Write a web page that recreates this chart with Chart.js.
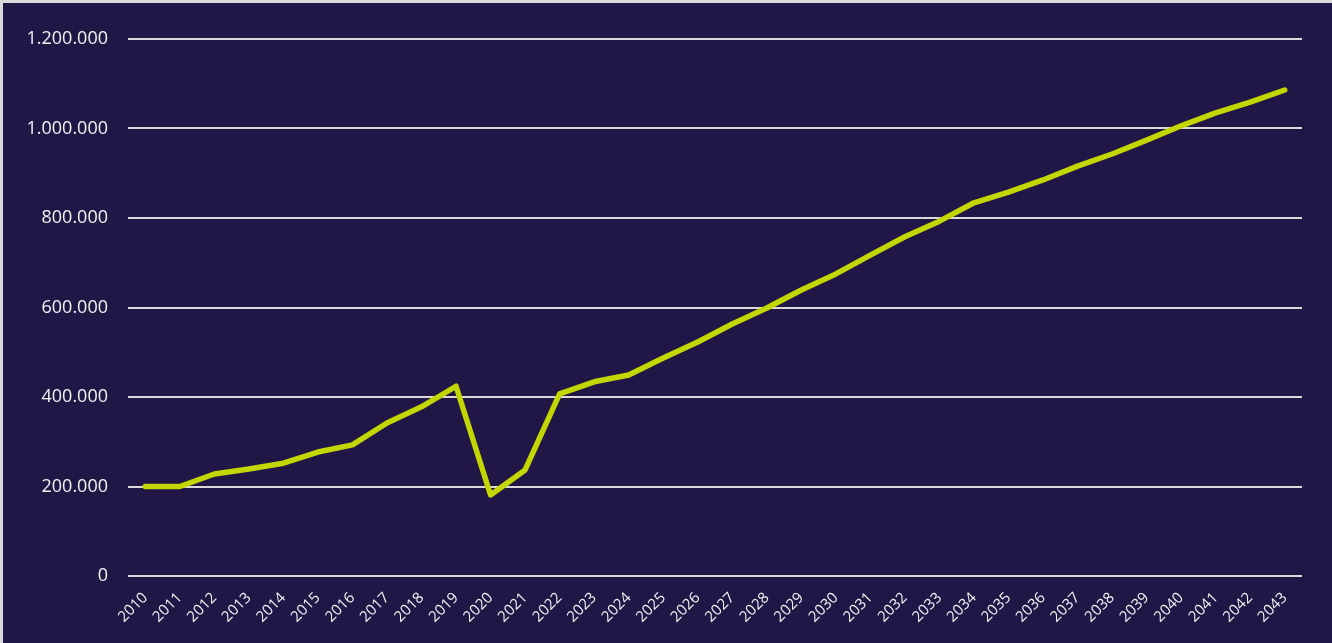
<!DOCTYPE html>
<html>
<head>
<meta charset="utf-8">
<script src="https://cdn.jsdelivr.net/npm/chart.js@4.4.0/dist/chart.umd.min.js"></script>
<style>
  html, body { margin: 0; padding: 0; background: #201747; }
  #wrap {
    position: absolute; left: 0; top: 0; width: 1329px; height: 640px;
    border-left: 3px solid #d9d9d9; border-top: 3px solid #d9d9d9;
    background: #201747;
  }
</style>
</head>
<body>
<div id="wrap"><canvas id="js--chart"></canvas></div>
<script>
const years = [
    "2010","2011","2012","2013","2014","2015","2016","2017","2018","2019",
    "2020","2021","2022","2023","2024","2025","2026","2027","2028","2029",
    "2030","2031","2032","2033","2034","2035","2036","2037","2038","2039",
    "2040","2041","2042","2043",
]
const values = [
    200000, 200000, 228000, 239000, 252000, 277000, 293000, 342000, 378000, 424000,
    181000, 237000, 407000, 434000, 449000, 487000, 523000, 563000, 599000, 639000,
    675000, 717000, 758000, 793000, 834000, 858000, 885000, 916000, 943000, 974000,
    1006000, 1035000, 1059000, 1086000,
]
const yTicks = [0, 200000, 400000, 600000, 800000, 1000000, 1200000]

const fmt = (v) => String(v).replace(/\B(?=(\d{3})+(?!\d))/g, ".")

const data = {
    labels: years,
    datasets: [
        {
            data: values,
            borderColor: "#c4d600",
            borderWidth: 5.5,
            pointRadius: 0,
            borderCapStyle: "round",
            borderJoinStyle: "round",
            tension: 0,
            fill: false,
        }
    ]
}

const config = {
    type: "line",
    data: data,
    options: {
        responsive: true,
        maintainAspectRatio: false,
        animation: false,
        layout: { padding: { top: 36, right: 30, left: 0, bottom: 0 } },
        plugins: { legend: { display: false }, tooltip: { enabled: false } },
        scales: {
            x: {
                offset: true,
                grid: { display: false, drawTicks: false },
                border: { display: false },
                ticks: {
                    color: "#f2f2f2",
                    font: { family: "Open Sans", size: 15 },
                    maxRotation: 45,
                    minRotation: 45,
                    autoSkip: false,
                    padding: 13,
                },
                afterFit: (axis) => { axis.height = 67 },
            },
            y: {
                min: 0,
                max: 1200000,
                afterBuildTicks: (axis) => { axis.ticks = yTicks.map(v => ({ value: v })) },
                grid: { color: "#d9d9d9", lineWidth: 2, drawTicks: false },
                border: { display: false },
                ticks: {
                    color: "#f2f2f2",
                    font: { family: "Open Sans", size: 18 },
                    padding: 20,
                    callback: (v) => fmt(v),
                },
                afterFit: (axis) => { axis.width = 125 },
            },
        },
    },
}

new Chart(document.getElementById("js--chart"), config)
</script>
</body>
</html>
